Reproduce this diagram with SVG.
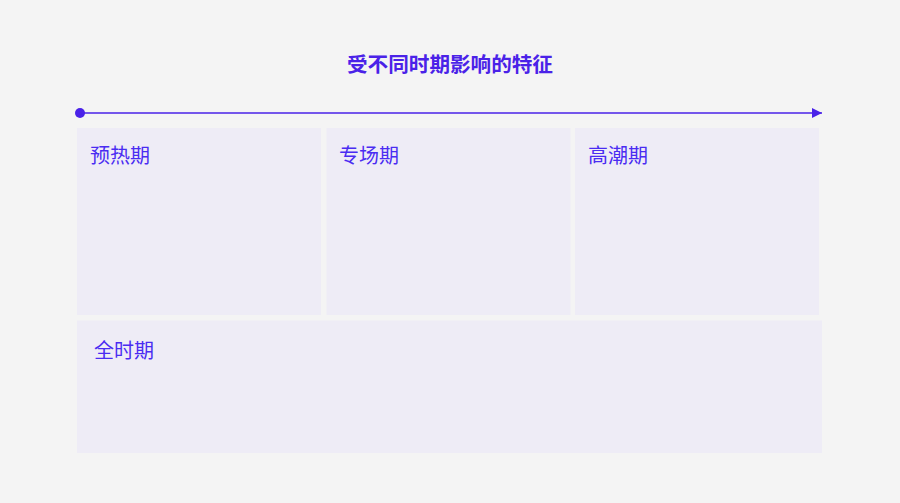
<svg xmlns="http://www.w3.org/2000/svg" width="900" height="503" viewBox="0 0 900 503">
<defs>
<style>
.box{fill:#eeecf6}
.lbl{font-family:"Noto Sans CJK SC","Noto Sans",sans-serif;font-size:20px;fill:#4a2cf2}
.title{font-family:"Noto Sans CJK SC","Noto Sans",sans-serif;font-size:20.6px;font-weight:bold;fill:#4a22e8}
</style>
<marker id="arr" markerWidth="10" markerHeight="10" refX="10" refY="5" orient="auto" markerUnits="userSpaceOnUse">
<path d="M0,0 L10,5 L0,10 Z" fill="#4a22e8"/>
</marker>
</defs>
<rect width="900" height="503" fill="#f4f4f4"/>
<text class="title" x="450" y="71.5" text-anchor="middle">受不同时期影响的特征</text>
<g id="connectors">
<line x1="80" y1="113" x2="822" y2="113" stroke="#4a22e8" stroke-width="1.5" marker-end="url(#arr)"/>
<circle cx="80" cy="113" r="5" fill="#4a22e8"/>
</g>
<g id="node-preheat">
<rect class="box" x="77" y="128" width="244" height="187"/>
<text class="lbl" x="90" y="163">预热期</text>
</g>
<g id="node-special">
<rect class="box" x="326.5" y="128" width="244" height="187"/>
<text class="lbl" x="339" y="163">专场期</text>
</g>
<g id="node-climax">
<rect class="box" x="575" y="128" width="244" height="187"/>
<text class="lbl" x="588" y="163">高潮期</text>
</g>
<g id="node-all">
<rect class="box" x="77" y="320.5" width="745" height="132.5"/>
<text class="lbl" x="94" y="358">全时期</text>
</g>
</svg>
